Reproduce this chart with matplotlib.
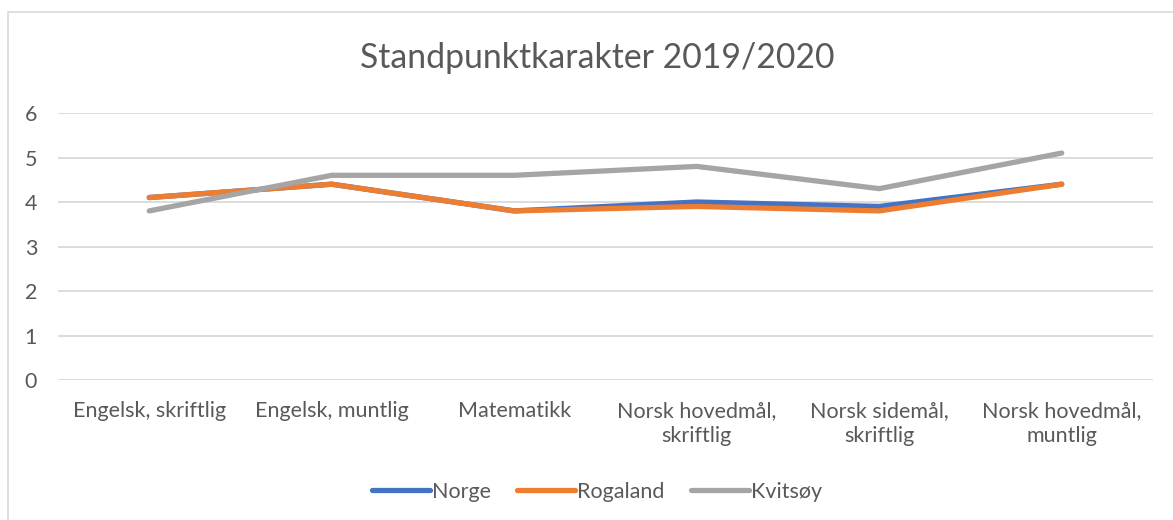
import matplotlib
matplotlib.use("Agg")
import matplotlib.pyplot as plt
from matplotlib.patches import Rectangle
from matplotlib.lines import Line2D

categories = ["Engelsk, skriftlig", "Engelsk, muntlig", "Matematikk",
              "Norsk hovedmål,\nskriftlig", "Norsk sidemål,\nskriftlig",
              "Norsk hovedmål,\nmuntlig"]
norge = [4.1, 4.4, 3.8, 4.0, 3.9, 4.4]
rogaland = [4.1, 4.4, 3.8, 3.9, 3.8, 4.4]
kvitsoy = [3.8, 4.6, 4.6, 4.8, 4.3, 5.1]
series_names = ["Norge", "Rogaland", "Kvitsøy"]
colors = ["#4472C4", "#ED7D31", "#A5A5A5"]
yticks = [0, 1, 2, 3, 4, 5, 6]

plt.rcParams['font.family'] = ['Lato', 'DejaVu Sans']
W, H = 1173, 520
fig = plt.figure(figsize=(W / 100, H / 100), dpi=100)
fig.patches.append(Rectangle((8 / W, -0.1), 1.2, (H - 12) / H + 0.1, transform=fig.transFigure,
                             fill=False, edgecolor="#D9D9D9", linewidth=1.2))

ax = fig.add_axes([58 / W, 140 / H, (1153 - 58) / W, (380 - 113) / H])
x = list(range(len(categories)))
for vals, name, c in zip([norge, rogaland, kvitsoy], series_names, colors):
    ax.plot(x, vals, color=c, linewidth=3.8, solid_capstyle='round', solid_joinstyle='round', label=name)

ax.set_xlim(-0.5, len(categories) - 0.5)
ax.set_ylim(0, 6)
ax.set_yticks(yticks)
ax.set_xticks(x)
ax.set_xticklabels(categories, fontsize=15.5, color="#595959", linespacing=1.3)
ax.set_yticklabels([str(t) for t in yticks], fontsize=15.5, color="#595959")
ax.tick_params(axis='both', length=0)
ax.tick_params(axis='x', pad=15)
ax.tick_params(axis='y', pad=24)
for lbl in ax.get_yticklabels():
    lbl.set_horizontalalignment('left')
ax.grid(axis='y', color="#D9D9D9", linewidth=1.3)
ax.set_axisbelow(True)
for s in ax.spines.values():
    s.set_visible(False)

fig.text(597 / W, 1 - 58 / H, "Standpunktkarakter 2019/2020", ha='center', va='center',
         fontsize=24.3, color="#595959", fontweight='normal')

handles = [Line2D([0], [0], color=c, linewidth=3.8, solid_capstyle='round') for c in colors]
fig.legend(handles, series_names, loc='center', bbox_to_anchor=(597 / W, 1 - 492 / H),
           ncol=3, frameon=False, fontsize=15.5, handlelength=2.7, handletextpad=0.1,
           columnspacing=1.2, labelcolor="#595959")

fig.savefig("out.png", dpi=100, facecolor="white")
